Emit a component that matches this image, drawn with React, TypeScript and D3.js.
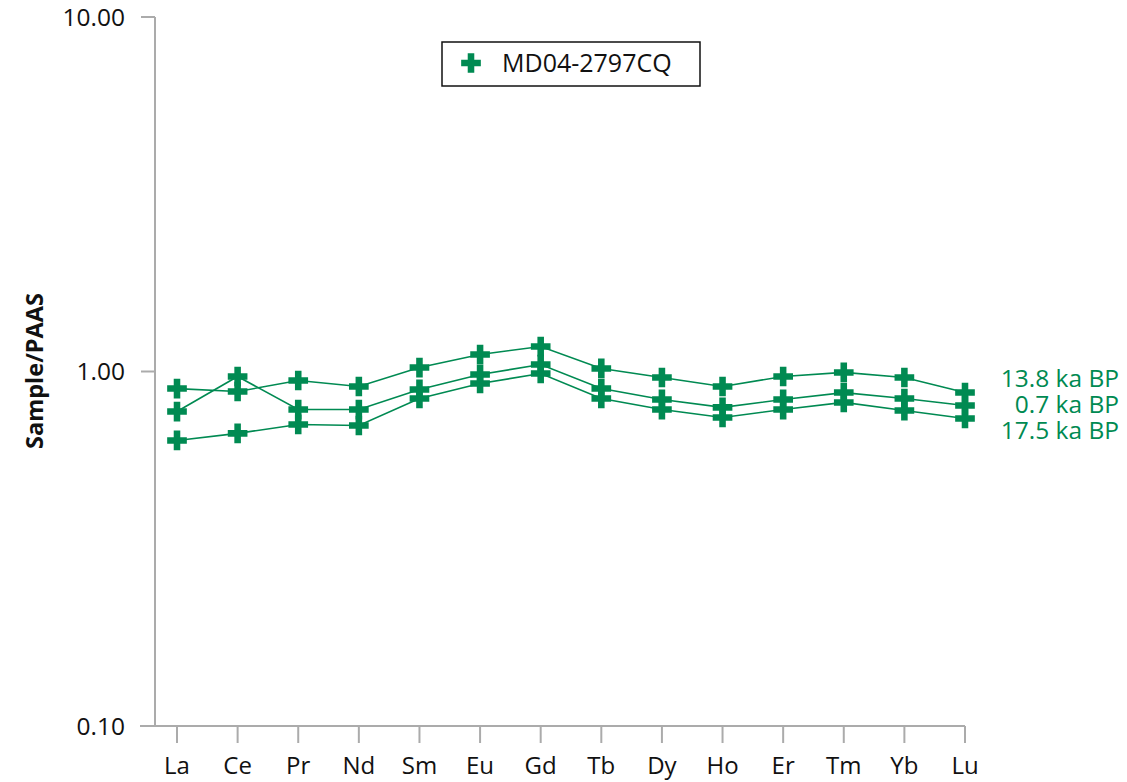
import React from "react"
import * as d3 from "d3"

const elements = ["La", "Ce", "Pr", "Nd", "Sm", "Eu", "Gd", "Tb", "Dy", "Ho", "Er", "Tm", "Yb", "Lu"]

const ka13_8 = [0.895, 0.878, 0.943, 0.907, 1.026, 1.117, 1.176, 1.02, 0.962, 0.907, 0.968, 0.994, 0.962, 0.872]
const ka0_7 = [0.771, 0.968, 0.781, 0.781, 0.89, 0.981, 1.046, 0.895, 0.834, 0.792, 0.834, 0.872, 0.839, 0.802]
const ka17_5 = [0.639, 0.669, 0.709, 0.704, 0.839, 0.925, 0.987, 0.839, 0.781, 0.742, 0.781, 0.818, 0.776, 0.737]

const seriesNames = ["13.8 ka BP", "0.7 ka BP", "17.5 ka BP"]
const yTicks = [0.1, 1, 10]
const legendLabel = "MD04-2797CQ"

const green = "#008a52"
const axisGray = "#ababab"
const font = "'Open Sans', 'Noto Sans', sans-serif"

export default function App() {
  const width = 1127
  const height = 782
  const x = d3.scalePoint<string>().domain(elements).range([177, 965])
  const y = d3.scaleLog().domain([0.1, 10]).range([726, 17])
  const line = d3
    .line<number>()
    .x((_, i) => x(elements[i]) as number)
    .y(d => y(d))
  const cross = d3.symbol().type(d3.symbolCross).size(215)()
  const series = [ka13_8, ka0_7, ka17_5]

  return (
    <svg width={width} height={height} style={{ position: "absolute", left: 0, top: 0 }}>
      <rect width={width} height={height} fill="white" />
      {/* axes */}
      <line x1={155} x2={155} y1={y(10)} y2={y(0.1)} stroke={axisGray} strokeWidth={2} />
      <line x1={140} x2={x("Lu")} y1={y(0.1)} y2={y(0.1)} stroke={axisGray} strokeWidth={2} />
      {yTicks.map(t => (
        <g key={t}>
          <line x1={141} x2={155} y1={y(t)} y2={y(t)} stroke={axisGray} strokeWidth={2} />
          <text
            x={125}
            y={y(t)}
            dy="0.35em"
            textAnchor="end"
            fontFamily={font}
            fontSize={24.5}
            fill="#111"
          >
            {d3.format(".2f")(t)}
          </text>
        </g>
      ))}
      {elements.map(e => (
        <g key={e}>
          <line x1={x(e)} x2={x(e)} y1={y(0.1)} y2={743} stroke={axisGray} strokeWidth={2} />
          <text x={x(e)} y={774} textAnchor="middle" fontFamily={font} fontSize={24} fill="#111">
            {e}
          </text>
        </g>
      ))}
      <text
        transform="translate(43,371) rotate(-90)"
        textAnchor="middle"
        fontFamily={font}
        fontWeight="bold"
        fontSize={23.5}
        fill="#111"
      >
        Sample/PAAS
      </text>

      {/* series */}
      {series.map((s, si) => (
        <g key={si}>
          <path d={line(s) || ""} fill="none" stroke={green} strokeWidth={1.6} />
          {s.map((v, i) => (
            <path key={i} d={cross || ""} transform={`translate(${x(elements[i])},${y(v)})`} fill={green} />
          ))}
        </g>
      ))}
      {seriesNames.map((n, i) => (
        <text
          key={n}
          x={1119}
          y={378 + i * 26}
          dy="0.35em"
          textAnchor="end"
          fontFamily={font}
          fontSize={24.5}
          fill={green}
        >
          {n}
        </text>
      ))}

      {/* legend */}
      <rect x={442} y={42} width={258} height={44} fill="white" stroke="#111" strokeWidth={1.5} />
      <path d={cross || ""} transform="translate(471,63)" fill={green} />
      <text x={502} y={63} dy="0.35em" fontFamily={font} fontSize={25} fill="#111">
        {legendLabel}
      </text>
    </svg>
  )
}
